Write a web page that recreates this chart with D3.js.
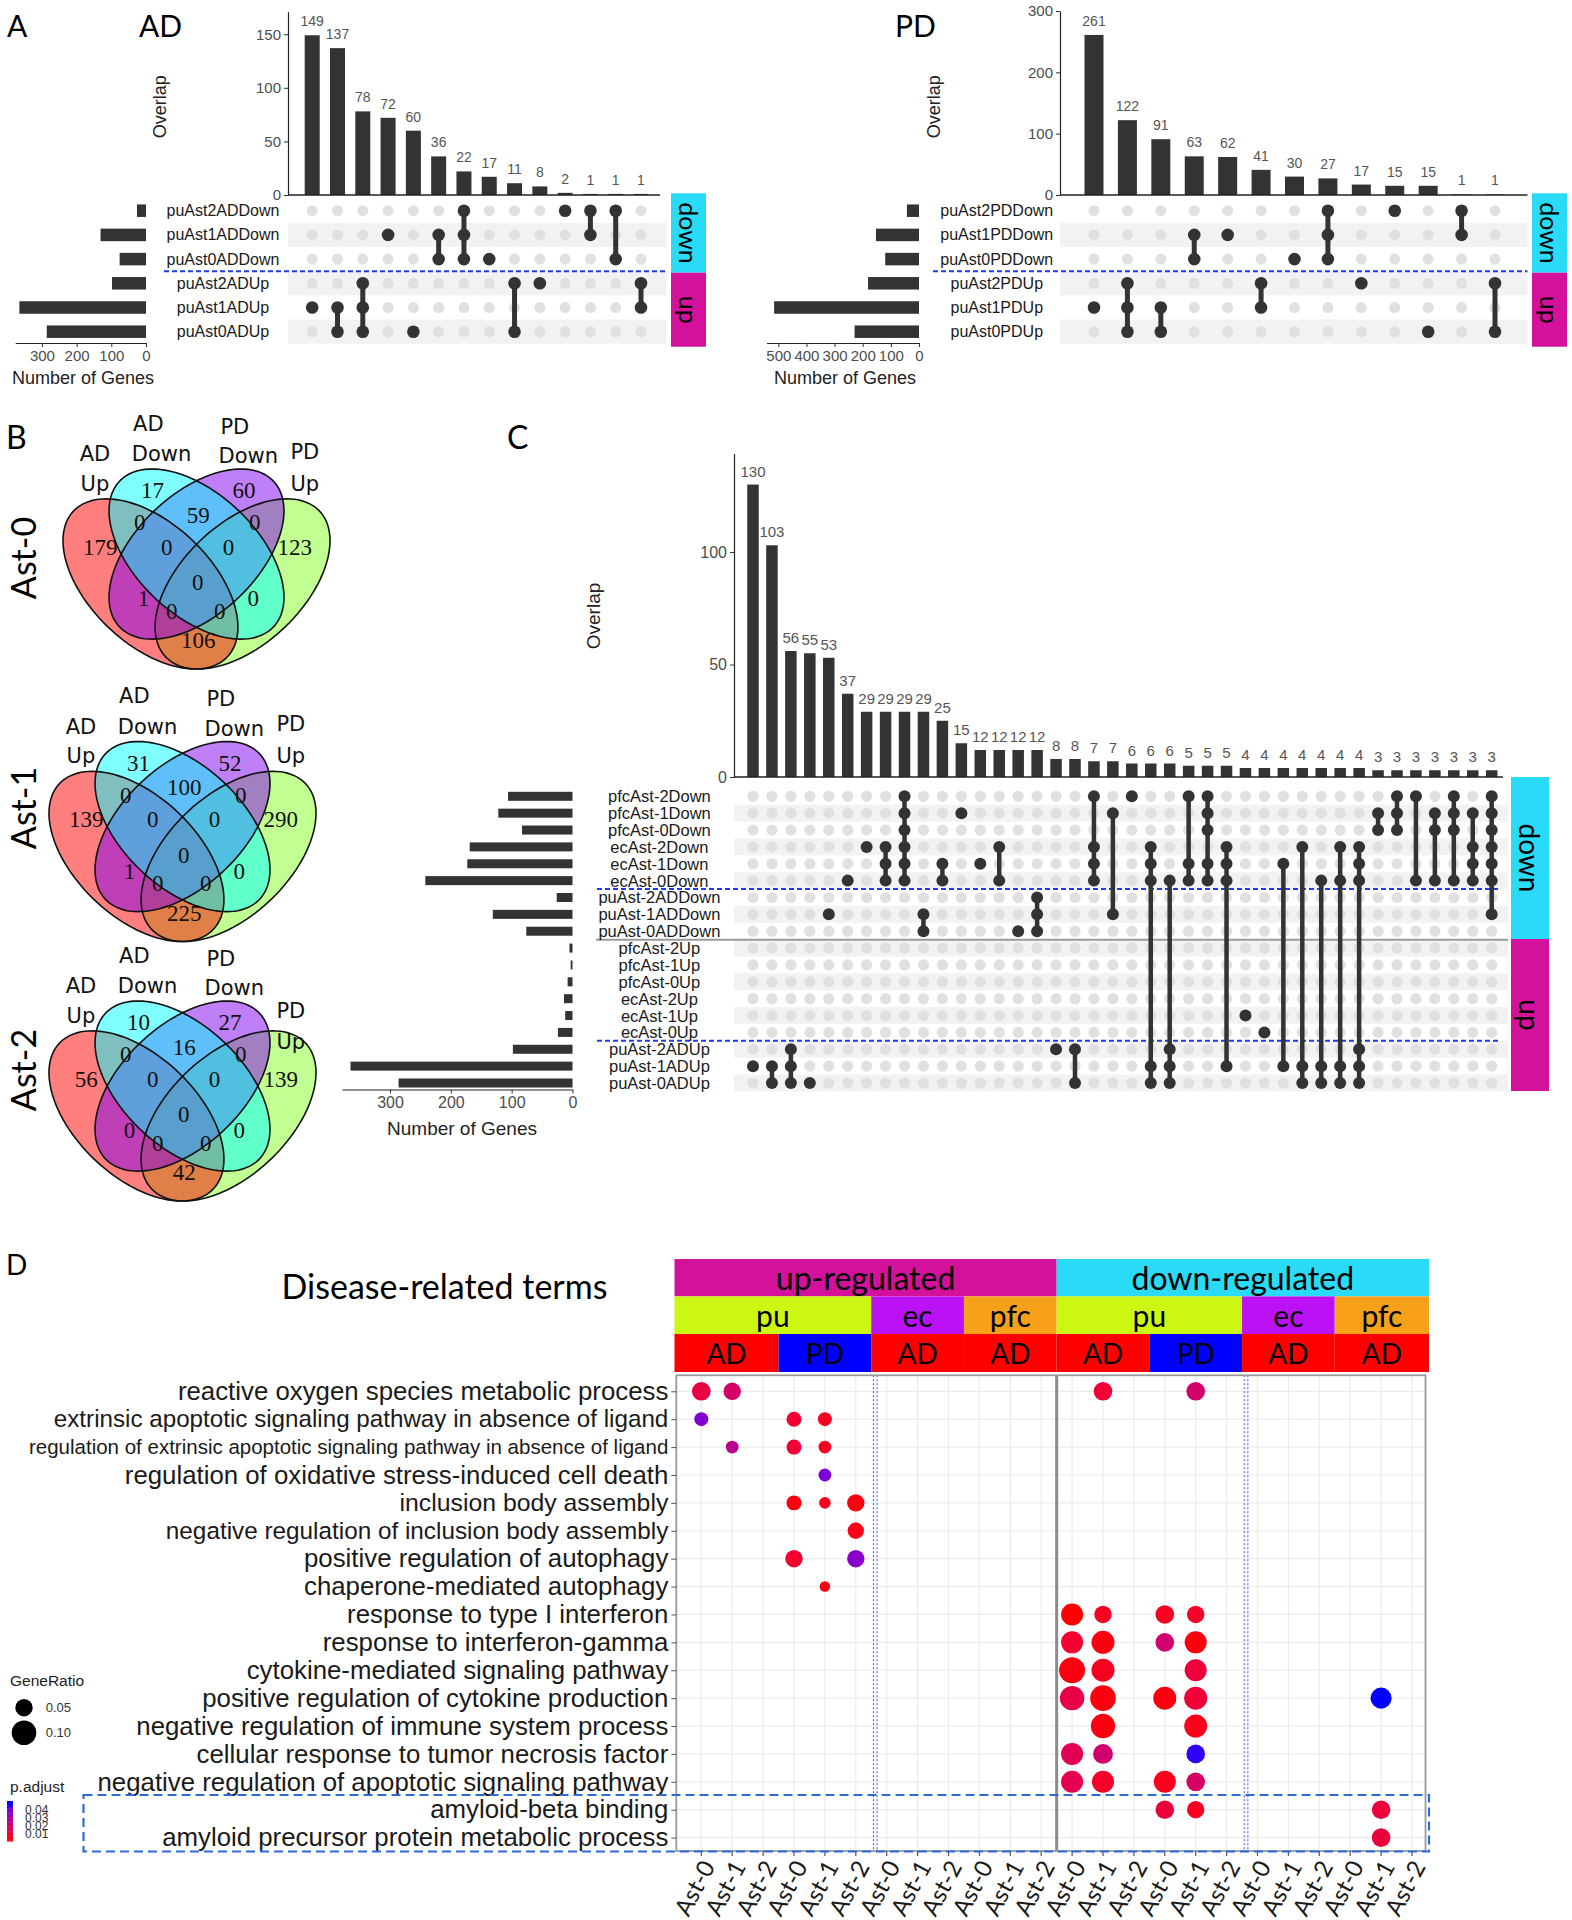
<!DOCTYPE html>
<html>
<head>
<meta charset="utf-8">
<script src="https://cdn.jsdelivr.net/npm/d3@7"></script>
<style>
html,body{margin:0;padding:0;background:#fff;}
svg{display:block;}
</style>
</head>
<body>
<svg id="fig" width="1572" height="1920" xmlns="http://www.w3.org/2000/svg"></svg>
<script>
// ================= DATA =================
// Panel A – AD upset
const adSets = ["puAst2ADDown","puAst1ADDown","puAst0ADDown","puAst2ADUp","puAst1ADUp","puAst0ADUp"];
const adSetSizes = [26,131,76,98,365,286];
const adCounts = [149,137,78,72,60,36,22,17,11,8,2,1,1,1];
const adMembers = [[4],[4,5],[3,4,5],[1],[5],[1,2],[0,1,2],[2],[3,5],[3],[0],[0,1],[0,2],[3,4]];
// Panel A – PD upset
const pdSets = ["puAst2PDDown","puAst1PDDown","puAst0PDDown","puAst2PDUp","puAst1PDUp","puAst0PDUp"];
const pdSetSizes = [43,153,120,181,515,229];
const pdCounts = [261,122,91,63,62,41,30,27,17,15,15,1,1];
const pdMembers = [[4],[3,4,5],[4,5],[1,2],[1],[3,4],[2],[0,1,2],[3],[0],[5],[0,1],[3,5]];
// Panel B – Venn diagrams
const vennSetNames = [["AD","Up"],["AD","Down"],["PD","Down"],["PD","Up"]];
const vennClusters = ["Ast-0","Ast-1","Ast-2"];
const vennRegions = ["A","B","C","D","AB","BC","CD","ABC","BCD","ABCD","AC","BD","ACD","ABD","AD"];
const vennAst0 = [179,17,60,123,0,59,0,0,0,0,1,0,0,0,106];
const vennAst1 = [139,31,52,290,0,100,0,0,0,0,1,0,0,0,225];
const vennAst2 = [56,10,27,139,0,16,0,0,0,0,0,0,0,0,42];
// Panel C – combined upset
const cSets = ["pfcAst-2Down","pfcAst-1Down","pfcAst-0Down","ecAst-2Down","ecAst-1Down","ecAst-0Down",
  "puAst-2ADDown","puAst-1ADDown","puAst-0ADDown","pfcAst-2Up","pfcAst-1Up","pfcAst-0Up",
  "ecAst-2Up","ecAst-1Up","ecAst-0Up","puAst-2ADUp","puAst-1ADUp","puAst-0ADUp"];
const cSetSizes = [106,122,83,169,173,242,26,131,76,5,3,8,14,12,24,98,365,286];
const cCounts = [130,103,56,55,53,37,29,29,29,29,25,15,12,12,12,12,8,8,7,7,6,6,6,5,5,5,4,4,4,4,4,4,4,3,3,3,3,3,3,3];
const cMembers = [
  [16],[16,17],[15,16,17],[17],[7],[5],[3],[3,4,5],[0,1,2,3,4,5],[7,8],
  [4,5],[1],[4],[3,5],[8],[6,7,8],[15],[15,17],[0,3,4,5],[1,7],
  [0],[3,4,5,16,17],[5,15,16,17],[0,4,5],[0,1,2,4,5],[3,4,5,16],[13],[14],[4,16],[3,16,17],
  [5,16,17],[3,5,16,17],[3,4,5,15,16,17],[1,2],[0,1,2],[0,5],[1,2,5],[0,1,2,5],[1,3,4,5],[0,1,2,3,4,5,7]
];
// Panel D – dot plot
const dTerms = [
  "reactive oxygen species metabolic process",
  "extrinsic apoptotic signaling pathway in absence of ligand",
  "regulation of extrinsic apoptotic signaling pathway in absence of ligand",
  "regulation of oxidative stress-induced cell death",
  "inclusion body assembly",
  "negative regulation of inclusion body assembly",
  "positive regulation of autophagy",
  "chaperone-mediated autophagy",
  "response to type I interferon",
  "response to interferon-gamma",
  "cytokine-mediated signaling pathway",
  "positive regulation of cytokine production",
  "negative regulation of immune system process",
  "cellular response to tumor necrosis factor",
  "negative regulation of apoptotic signaling pathway",
  "amyloid-beta binding",
  "amyloid precursor protein metabolic process"
];
const dDirections = ["up-regulated","down-regulated"];
const dRegions = ["pu","ec","pfc"];
const dRegionDiseases = [["AD","PD"],["AD"],["AD"]];
const dClusters = ["Ast-0","Ast-1","Ast-2"];
const dotTerm = [0,0,0,0,1,1,1,2,2,2,3,4,4,4,5,6,6,7,8,8,8,8,9,9,9,9,10,10,10,11,11,11,11,11,12,12,13,13,13,14,14,14,14,15,15,15,16];
const dotCol  = [0,1,13,16,0,3,4,1,3,4,4,3,4,5,5,3,5,4,12,13,15,16,12,13,15,16,12,13,16,12,13,15,16,22,13,16,12,13,16,12,13,15,16,15,16,22,22];
const dotGeneRatio = [0.057,0.050,0.057,0.057,0.032,0.037,0.032,0.027,0.037,0.027,0.027,0.037,0.022,0.050,0.044,0.050,0.050,0.018,
  0.080,0.050,0.057,0.050,0.080,0.087,0.057,0.080,0.111,0.087,0.080,0.098,0.108,0.087,0.087,0.073,0.098,0.087,
  0.080,0.065,0.057,0.080,0.080,0.080,0.057,0.057,0.050,0.057,0.057];
const dotPadj = [0.012,0.019,0.010,0.019,0.037,0.009,0.007,0.026,0.010,0.007,0.038,0.005,0.006,0.005,0.006,0.009,0.036,0.005,
  0.004,0.007,0.007,0.008,0.009,0.005,0.020,0.005,0.005,0.007,0.011,0.013,0.005,0.005,0.010,0.045,0.005,0.006,
  0.015,0.020,0.044,0.014,0.008,0.006,0.018,0.011,0.007,0.011,0.011];
const legendRatios = [0.05, 0.10];
const legendPadj = [0.04, 0.03, 0.02, 0.01];

// ================= DRAWING =================
const svg = d3.select("#fig");
const FS = "'Liberation Sans', Arial, sans-serif";
const FL = "Lato, 'Open Sans', sans-serif";
const FSER = "'Liberation Serif', 'Times New Roman', serif";
const FDJ = "'DejaVu Sans', Verdana, sans-serif";
const DARK = "#333333";
const CYAN = "#29dbf7", MAGENTA = "#d4119b";
// per-term label font sizes (style only)
const termFont = [25.8, 24.2, 20.5, 25.8, 24.8, 24.3, 25.8, 25.8, 25.8, 25.8, 25.8, 25.8, 25.8, 25.8, 25.8, 25.8, 25.8];

function styleAxis(sel, fs) {
  sel.select(".domain").attr("stroke", "#222").attr("stroke-width", 1.2);
  sel.selectAll(".tick line").attr("stroke", "#333");
  sel.selectAll(".tick text").attr("fill", "#4d4d4d").attr("font-family", FS).attr("font-size", fs);
}
function txt(g, x, y, s, o = {}) {
  const t = g.append("text").attr("x", x).attr("y", y).text(s)
    .attr("font-family", o.ff || FS).attr("font-size", o.fs || 16)
    .attr("fill", o.fill || "#000").attr("text-anchor", o.anchor || "start");
  if (o.mid) t.attr("dominant-baseline", "central");
  if (o.rot !== undefined) t.attr("transform", `rotate(${o.rot},${x},${y})`);
  return t;
}

function upset(cfg) {
  const g = svg.append("g");
  const n = cfg.counts.length;
  const x = d3.scalePoint().domain(d3.range(n)).range(cfg.bx);
  const y = d3.scaleLinear().domain([0, cfg.yMax]).range([cfg.yZero, cfg.yTop]);
  const rows = d3.scalePoint().domain(cfg.sets).range(cfg.rowY);
  const rs = rows.step();
  const sx = d3.scaleLinear().domain([0, cfg.sMax]).range([cfg.sZero, cfg.sLeft]);

  g.selectAll(null).data(cfg.sets.filter((d, i) => i % 2 === 1)).join("rect")
    .attr("x", cfg.stripe[0]).attr("width", cfg.stripe[1] - cfg.stripe[0])
    .attr("y", d => rows(d) - rs / 2).attr("height", rs).attr("fill", "#f2f2f2");

  g.selectAll(null).data(cfg.counts).join("rect")
    .attr("x", (d, i) => x(i) - cfg.bw / 2).attr("width", cfg.bw)
    .attr("y", d => y(d)).attr("height", d => y(0) - y(d)).attr("fill", DARK);
  g.selectAll(null).data(cfg.counts).join("text")
    .attr("x", (d, i) => x(i)).attr("y", d => y(d) - cfg.countGap)
    .attr("text-anchor", "middle").attr("font-family", FS).attr("font-size", cfg.countSize)
    .attr("fill", "#555").text(d => d);

  const ya = g.append("g").attr("transform", `translate(${cfg.axisX},0)`)
    .call(d3.axisLeft(y).tickValues(cfg.yTicks).tickSize(4).tickSizeOuter(0).tickPadding(3));
  styleAxis(ya, cfg.tickSize);
  g.append("line").attr("x1", cfg.axisX).attr("x2", cfg.baseX1).attr("y1", y(0)).attr("y2", y(0))
    .attr("stroke", "#222").attr("stroke-width", 1.4);
  txt(g, cfg.overlap[0], cfg.overlap[1], "Overlap", {fs: cfg.titleSize, anchor: "middle", mid: true, rot: -90, fill: "#222"});

  (cfg.seps || []).forEach(s => {
    const yy = (rows(cfg.sets[s.k - 1]) + rows(cfg.sets[s.k])) / 2;
    g.append("line").attr("x1", s.x0).attr("x2", s.x1).attr("y1", yy).attr("y2", yy)
      .attr("stroke", s.color).attr("stroke-width", s.w).attr("stroke-dasharray", s.dash || null);
  });

  const cells = [];
  cfg.counts.forEach((c, i) => cfg.sets.forEach((s, j) => cells.push({i, j, on: cfg.members[i].includes(j)})));
  g.selectAll(null).data(cells.filter(d => !d.on)).join("circle")
    .attr("cx", d => x(d.i)).attr("cy", d => rows(cfg.sets[d.j])).attr("r", cfg.grayR).attr("fill", "#e0e0e0");
  g.selectAll(null).data(cfg.members.map((m, i) => ({i, m})).filter(d => d.m.length > 1)).join("line")
    .attr("x1", d => x(d.i)).attr("x2", d => x(d.i))
    .attr("y1", d => rows(cfg.sets[d3.min(d.m)])).attr("y2", d => rows(cfg.sets[d3.max(d.m)]))
    .attr("stroke", DARK).attr("stroke-width", cfg.lineW);
  g.selectAll(null).data(cells.filter(d => d.on)).join("circle")
    .attr("cx", d => x(d.i)).attr("cy", d => rows(cfg.sets[d.j])).attr("r", cfg.blackR).attr("fill", DARK);

  g.selectAll(null).data(cfg.sets).join("text")
    .attr("x", cfg.labelX).attr("y", d => rows(d)).attr("dominant-baseline", "central")
    .attr("text-anchor", "middle").attr("font-family", FS).attr("font-size", cfg.labelSize)
    .attr("fill", "#1a1a1a").text(d => d);

  g.selectAll(null).data(cfg.sizes).join("rect")
    .attr("x", d => sx(d)).attr("width", d => sx(0) - sx(d))
    .attr("y", (d, i) => rows(cfg.sets[i]) - cfg.sBarH / 2).attr("height", cfg.sBarH).attr("fill", DARK);
  const sa = g.append("g").attr("transform", `translate(0,${cfg.sAxisY})`)
    .call(d3.axisBottom(sx).tickValues(cfg.sTicks).tickSize(4).tickSizeOuter(0).tickPadding(3));
  styleAxis(sa, cfg.tickSize);
  txt(g, cfg.genes[0], cfg.genes[1], "Number of Genes", {fs: cfg.titleSize, anchor: "middle", mid: true, fill: "#222"});
  return g;
}

function strip(x0, x1, y0, y1, color, label, fs, rot) {
  svg.append("rect").attr("x", x0).attr("y", y0).attr("width", x1 - x0).attr("height", y1 - y0).attr("fill", color);
  txt(svg, (x0 + x1) / 2, (y0 + y1) / 2, label, {ff: FL, fs, anchor: "middle", mid: true, rot});
}

// ---------- Panel A ----------
txt(svg, 7, 37, "A", {ff: FL, fs: 30});
txt(svg, 139, 37, "AD", {ff: FL, fs: 30});
txt(svg, 895, 37, "PD", {ff: FL, fs: 30});

upset({
  sets: adSets, sizes: adSetSizes, counts: adCounts, members: adMembers,
  bx: [312.2, 641], bw: 15, yMax: 171, yZero: 195, yTop: 11.7, yTicks: [0, 50, 100, 150],
  axisX: 288, baseX1: 660, rowY: [210.7, 331.7], stripe: [288, 666.5], labelX: 223, labelSize: 16,
  sZero: 146, sLeft: 15.2, sMax: 377, sTicks: [0, 100, 200, 300], sAxisY: 343, sBarH: 12.5,
  genes: [83, 378], overlap: [160.5, 106.7], countSize: 14, countGap: 9, tickSize: 15, titleSize: 18,
  grayR: 5.5, blackR: 6.3, lineW: 5,
  seps: [{k: 3, x0: 164, x1: 668, color: "#1f3de0", w: 2, dash: "5,3"}]
});
upset({
  sets: pdSets, sizes: pdSetSizes, counts: pdCounts, members: pdMembers,
  bx: [1094, 1495], bw: 19, yMax: 300, yZero: 195, yTop: 11, yTicks: [0, 100, 200, 300],
  axisX: 1060, baseX1: 1527.5, rowY: [210.7, 331.7], stripe: [1060, 1527.5], labelX: 996.8, labelSize: 16,
  sZero: 919, sLeft: 766.5, sMax: 542, sTicks: [0, 100, 200, 300, 400, 500], sAxisY: 343, sBarH: 12.5,
  genes: [845, 378], overlap: [934, 106.7], countSize: 14, countGap: 9, tickSize: 15, titleSize: 18,
  grayR: 5.5, blackR: 6.3, lineW: 5,
  seps: [{k: 3, x0: 933, x1: 1527.5, color: "#1f3de0", w: 2, dash: "5,3"}]
});
strip(671, 706, 193.3, 272.7, CYAN, "down", 25, 90);
strip(671, 706, 272.7, 346.7, MAGENTA, "up", 25, 90);
strip(1532, 1567, 193.3, 272.7, CYAN, "down", 25, 90);
strip(1532, 1567, 272.7, 346.7, MAGENTA, "up", 25, 90);

// ---------- Panel B ----------
txt(svg, 6, 449, "B", {ff: FL, fs: 32});
const vennData = [vennAst0, vennAst1, vennAst2];
const vennBoxes = [[63, 330, 469, 669], [49, 316, 741.5, 941.5], [49, 316, 1001, 1201]];
const vennTitleY = [558, 808, 1070];
const ellipses = [ // unit-square layout of the four-set Venn, y up
  {set: 3, cx: 0.65, cy: 0.47, rot: 45, fill: "#85ff28"},
  {set: 0, cx: 0.35, cy: 0.47, rot: -45, fill: "#ff0000"},
  {set: 2, cx: 0.50, cy: 0.57, rot: 45, fill: "#8000f0"},
  {set: 1, cx: 0.50, cy: 0.57, rot: -45, fill: "#00ffff"}
];
const regionPos = {A: [0.186, 0.593], B: [0.357, 0.782], C: [0.655, 0.782], D: [0.820, 0.593], AB: [0.315, 0.675],
  BC: [0.506, 0.700], CD: [0.690, 0.675], ABC: [0.403, 0.593], BCD: [0.604, 0.593], ABCD: [0.504, 0.474],
  AC: [0.327, 0.420], BD: [0.685, 0.420], ACD: [0.419, 0.379], ABD: [0.576, 0.379], AD: [0.506, 0.280]};
const setLabelPos = [[[0.169, 0.905], [0.169, 0.806]], [[0.343, 1.007], [0.386, 0.905]],
  [[0.625, 0.996], [0.669, 0.897]], [[0.853, 0.913], [0.853, 0.806]]];
function ellipsePts(e) {
  const t = e.rot * Math.PI / 180, a = 0.35, b = 0.2;
  return d3.range(0, 360, 3).map(k => {
    const p = k * Math.PI / 180, ex = a * Math.cos(p), ey = b * Math.sin(p);
    return [e.cx + ex * Math.cos(t) - ey * Math.sin(t), e.cy + ex * Math.sin(t) + ey * Math.cos(t)];
  });
}
vennData.forEach((vals, vi) => {
  const [x0, x1, y0, y1] = vennBoxes[vi];
  const vx = d3.scaleLinear().domain([0.065, 0.935]).range([x0, x1]);
  const vy = d3.scaleLinear().domain([0.185, 0.855]).range([y1, y0]);
  const line = d3.line().x(d => vx(d[0])).y(d => vy(d[1])).curve(d3.curveLinearClosed);
  const g = svg.append("g");
  g.selectAll(null).data(ellipses).join("path").attr("d", e => line(ellipsePts(e)))
    .attr("fill", e => e.fill).attr("fill-opacity", 0.5);
  g.selectAll(null).data(ellipses).join("path").attr("d", e => line(ellipsePts(e)))
    .attr("fill", "none").attr("stroke", "#111").attr("stroke-width", 1.6);
  g.selectAll(null).data(vals).join("text")
    .attr("x", (d, i) => vx(regionPos[vennRegions[i]][0])).attr("y", (d, i) => vy(regionPos[vennRegions[i]][1]))
    .attr("text-anchor", "middle").attr("dominant-baseline", "central")
    .attr("font-family", FSER).attr("font-size", 23).attr("fill", "#111").text(d => d);
  vennSetNames.forEach((nm, si) => {
    nm.forEach((w, li) => {
      let [u, v] = setLabelPos[si][li];
      if (vi === 2 && si === 3) v -= 0.09;
      txt(g, vx(u), vy(v), w, {ff: FDJ, fs: 21, anchor: "middle", mid: true, fill: "#111"});
    });
  });
  txt(g, 22, vennTitleY[vi], vennClusters[vi], {ff: FL, fs: 34, anchor: "middle", mid: true, rot: -90});
});

// ---------- Panel C ----------
txt(svg, 507, 449, "C", {ff: FL, fs: 32});
upset({
  sets: cSets, sizes: cSetSizes, counts: cCounts, members: cMembers,
  bx: [753, 1491.7], bw: 11.5, yMax: 143.8, yZero: 777, yTop: 453.5, yTicks: [0, 50, 100],
  axisX: 734, baseX1: 1503, rowY: [796.3, 1083], stripe: [734, 1508], labelX: 659.4, labelSize: 16.5,
  sZero: 572.5, sLeft: 342, sMax: 379, sTicks: [0, 100, 200, 300], sAxisY: 1089.5, sBarH: 9,
  genes: [462, 1128], overlap: [593, 616], countSize: 15, countGap: 8, tickSize: 16, titleSize: 19,
  grayR: 5.6, blackR: 6, lineW: 4.5,
  seps: [
    {k: 6, x0: 597, x1: 1500, color: "#1f3de0", w: 2, dash: "5,3"},
    {k: 9, x0: 596, x1: 1508, color: "#9a9a9a", w: 2},
    {k: 15, x0: 597, x1: 1500, color: "#1f3de0", w: 2, dash: "5,3"}
  ]
});
strip(1511, 1549, 777, 939, CYAN, "down", 28, 90);
strip(1511, 1549, 939, 1091, MAGENTA, "up", 28, 90);

// ---------- Panel D ----------
txt(svg, 6, 1275, "D", {ff: FL, fs: 28});
txt(svg, 444.5, 1285.5, "Disease-related terms", {ff: FL, fs: 34, anchor: "middle", mid: true});

const dCols = [];
dDirections.forEach(dir => dRegions.forEach((reg, ri) => dRegionDiseases[ri].forEach(dis =>
  dClusters.forEach(cl => dCols.push({dir, reg, dis, cl, key: `${dir}|${reg}|${dis}|${cl}`})))));
const xD = d3.scalePoint().domain(dCols.map(c => c.key)).range([701.3, 1412]);
const yD = d3.scalePoint().domain(dTerms).range([1391.3, 1837.6]);
const rD = d3.scaleSqrt().domain([0, 0.12]).range([0, 13.5]);
const cD = d3.scaleLinear().domain([0.004, 0.045]).range(["red", "blue"]).interpolate(d3.interpolateLab).clamp(true);
const stepD = xD.step();
const panel = {x0: 676.3, x1: 1425.5, y0: 1375.3, y1: 1851};

// header strips
const stripL = 674.5, stripR = 1429;
function colGroups(keyFn) {
  const out = [];
  dCols.forEach((c, i) => {
    const k = keyFn(c);
    if (out.length && out[out.length - 1].k === k) out[out.length - 1].end = i;
    else out.push({k, start: i, end: i, c});
  });
  return out;
}
function gx0(gr) { return gr.start === 0 ? stripL : xD(dCols[gr.start].key) - stepD / 2; }
function gx1(gr) { return gr.end === dCols.length - 1 ? stripR : xD(dCols[gr.end].key) + stepD / 2; }
const dirColor = {"up-regulated": MAGENTA, "down-regulated": CYAN};
const regColor = {pu: "#ccf712", ec: "#bb11f5", pfc: "#f7a11b"};
const disColor = {AD: "#ff0000", PD: "#0000ff"};
colGroups(c => c.dir).forEach(gr => strip(gx0(gr), gx1(gr), 1259, 1296.4, dirColor[gr.c.dir], gr.c.dir, 32));
colGroups(c => c.dir + c.reg).forEach(gr => strip(gx0(gr), gx1(gr), 1296.4, 1334, regColor[gr.c.reg], gr.c.reg, 30));
colGroups(c => c.dir + c.reg + c.dis).forEach(gr => strip(gx0(gr), gx1(gr), 1334, 1372, disColor[gr.c.dis], gr.c.dis, 28));

const gD = svg.append("g");
gD.append("rect").attr("x", panel.x0).attr("y", panel.y0).attr("width", panel.x1 - panel.x0)
  .attr("height", panel.y1 - panel.y0).attr("fill", "#fff");
gD.selectAll(null).data(dCols).join("line")
  .attr("x1", d => xD(d.key)).attr("x2", d => xD(d.key)).attr("y1", panel.y0).attr("y2", panel.y1)
  .attr("stroke", "#ebebeb").attr("stroke-width", 1.2);
gD.selectAll(null).data(dTerms).join("line")
  .attr("x1", panel.x0).attr("x2", panel.x1).attr("y1", d => yD(d)).attr("y2", d => yD(d))
  .attr("stroke", "#ebebeb").attr("stroke-width", 1.2);
// separators between groups
const mid = (i) => (xD(dCols[i].key) + xD(dCols[i + 1].key)) / 2;
[5, 17].forEach(i => [-1.8, 1.8].forEach(off => {
  gD.append("line").attr("x1", mid(i) + off + 4).attr("x2", mid(i) + off + 4).attr("y1", panel.y0).attr("y2", panel.y1)
    .attr("stroke", "#4a5cff").attr("stroke-width", 1.1).attr("stroke-dasharray", "2,2");
}));
gD.append("line").attr("x1", mid(11)).attr("x2", mid(11)).attr("y1", panel.y0).attr("y2", panel.y1)
  .attr("stroke", "#8c8c8c").attr("stroke-width", 3);
gD.append("rect").attr("x", panel.x0).attr("y", panel.y0).attr("width", panel.x1 - panel.x0)
  .attr("height", panel.y1 - panel.y0).attr("fill", "none").attr("stroke", "#9a9a9a").attr("stroke-width", 1.8);

// dots
gD.selectAll(null).data(dotTerm.map((t, i) => ({t, c: dotCol[i], r: dotGeneRatio[i], p: dotPadj[i]}))).join("circle")
  .attr("cx", d => xD(dCols[d.c].key)).attr("cy", d => yD(dTerms[d.t]))
  .attr("r", d => rD(d.r)).attr("fill", d => cD(d.p));

// y axis labels
const ya = gD.append("g").attr("transform", `translate(${panel.x0},0)`)
  .call(d3.axisLeft(yD).tickSize(5).tickPadding(3));
ya.select(".domain").remove();
ya.selectAll(".tick line").attr("stroke", "#555");
ya.selectAll(".tick text").attr("font-family", FS).attr("fill", "#1a1a1a")
  .attr("font-size", d => termFont[dTerms.indexOf(d)]);

// x axis ticks + labels
gD.selectAll(null).data(dCols).join("line")
  .attr("x1", d => xD(d.key)).attr("x2", d => xD(d.key)).attr("y1", panel.y1).attr("y2", panel.y1 + 5)
  .attr("stroke", "#555").attr("stroke-width", 1.2);
gD.selectAll(null).data(dCols).join("text")
  .attr("transform", d => `translate(${xD(d.key) + 6},${1862}) rotate(-62)`)
  .attr("text-anchor", "end").attr("dominant-baseline", "central")
  .attr("font-family", FL).attr("font-size", 24).attr("fill", "#1a1a1a").text(d => d.cl);

// highlight box
gD.append("rect").attr("x", 83.5).attr("y", 1795).attr("width", 1429 - 83.5).attr("height", 1851.5 - 1795)
  .attr("fill", "none").attr("stroke", "#2f6ad9").attr("stroke-width", 2.2).attr("stroke-dasharray", "9,5");

// legends
txt(svg, 10, 1680.7, "GeneRatio", {fs: 15.5, mid: true, fill: "#222"});
const legY = d3.scalePoint().domain(legendRatios).range([1707.7, 1732.7]);
svg.selectAll(null).data(legendRatios).join("circle").attr("cx", 24).attr("cy", d => legY(d))
  .attr("r", d => rD(d)).attr("fill", "#000");
svg.selectAll(null).data(legendRatios).join("text").attr("x", 45.7).attr("y", d => legY(d))
  .attr("dominant-baseline", "central").attr("font-family", FS).attr("font-size", 13).attr("fill", "#333")
  .text(d => d.toFixed(2));
txt(svg, 10, 1786.7, "p.adjust", {fs: 15.5, mid: true, fill: "#222"});
const cbY = d3.scaleLinear().domain([0.0015, 0.0505]).range([1841, 1801]);
svg.selectAll(null).data(d3.range(0.0015, 0.0505, 0.001)).join("rect")
  .attr("x", 7).attr("width", 6).attr("y", d => cbY(d + 0.001)).attr("height", d => cbY(d) - cbY(d + 0.001) + 0.5)
  .attr("fill", d => cD(d));
svg.selectAll(null).data(legendPadj).join("text").attr("x", 25).attr("y", d => cbY(d))
  .attr("dominant-baseline", "central").attr("font-family", FS).attr("font-size", 12).attr("fill", "#333")
  .text(d => d.toFixed(2));
</script>
</body>
</html>
